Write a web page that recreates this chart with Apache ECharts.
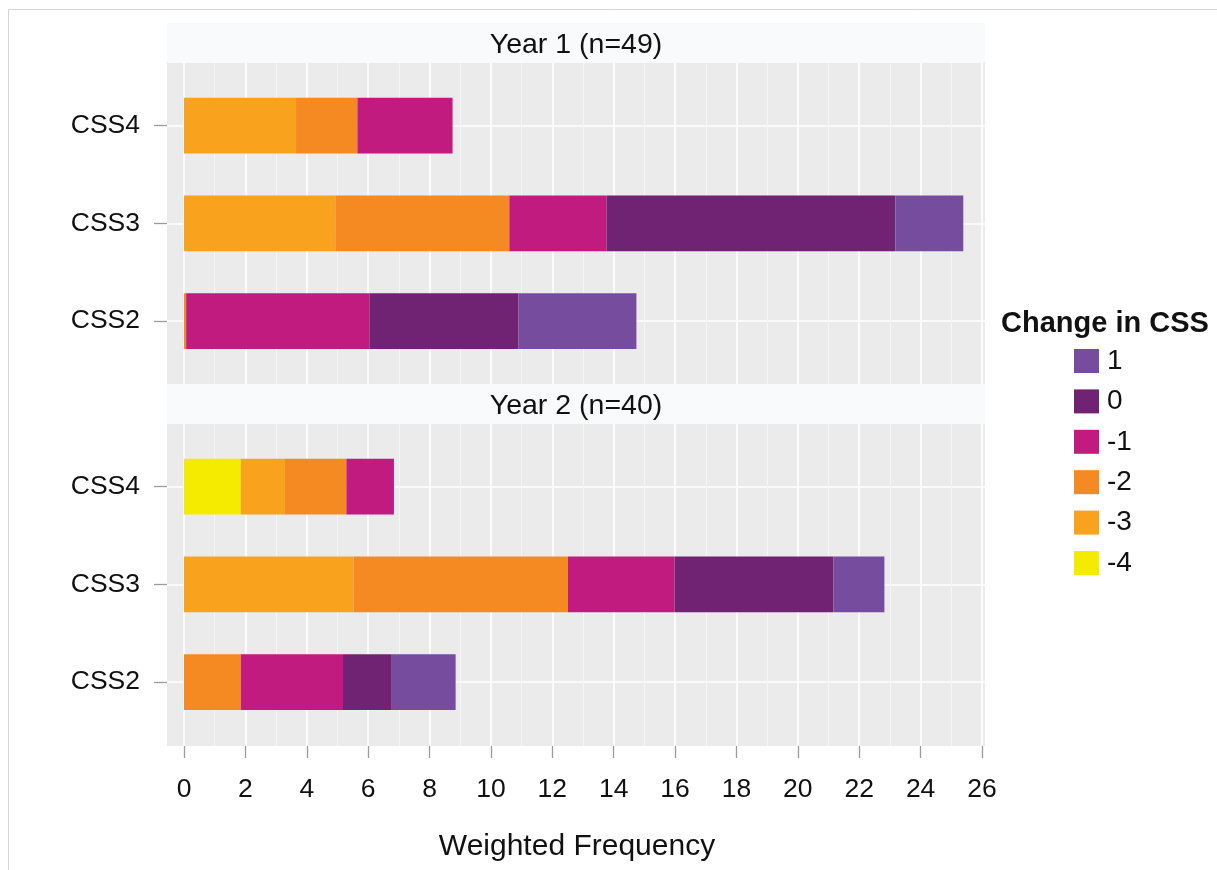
<!DOCTYPE html>
<html>
<head>
<meta charset="utf-8">
<script src="https://cdn.jsdelivr.net/npm/echarts@6/dist/echarts.min.js"></script>
<style>
  html, body { margin: 0; padding: 0; background: #ffffff; }
  #chart { width: 1217px; height: 870px; }
</style>
</head>
<body>
<div id="chart"></div>
<script>
// Rows of each panel, bottom to top
const categories = ['CSS2', 'CSS3', 'CSS4'];
// Change-in-CSS levels, stacked left to right
const levels = ['-4', '-3', '-2', '-1', '0', '1'];
// Legend order (top to bottom)
const legendOrder = ['1', '0', '-1', '-2', '-3', '-4'];
const levelColors = {
  '1': '#764c9f',
  '0': '#712373',
  '-1': '#c11b80',
  '-2': '#f58a22',
  '-3': '#f9a21e',
  '-4': '#f5eb00'
};
const xTicks = [0, 2, 4, 6, 8, 10, 12, 14, 16, 18, 20, 22, 24, 26];

// Weighted frequency per level, values for [CSS2, CSS3, CSS4]
const year1 = {
  '-4': [0, 0, 0],
  '-3': [0, 4.93, 3.65],
  '-2': [0.07, 5.67, 2.0],
  '-1': [5.97, 3.17, 3.10],
  '0': [4.86, 9.41, 0],
  '1': [3.84, 2.21, 0]
};
const year2 = {
  '-4': [0, 0, 1.85],
  '-3': [0, 5.53, 1.44],
  '-2': [1.85, 6.98, 2.0],
  '-1': [3.33, 3.47, 1.55],
  '0': [1.59, 5.18, 0],
  '1': [2.08, 1.66, 0]
};
const panelTitles = ['Year 1 (n=49)', 'Year 2 (n=40)'];
const panelData = [year1, year2];

const FONT = "'Liberation Sans', Arial, Helvetica, sans-serif";
const xMin = xTicks[0], xMax = xTicks[xTicks.length - 1];

// Layout of each facet
const panelLeft = 167, panelWidth = 818;
const dataLeft = 184, dataWidth = 798;
const panelHeight = 322;
const panelTops = [63, 424];
const stripHeight = 40;
const catOffset = 62.7;     // first/last row centre from panel edge
const rowStep = 97.7;

const grid = [], xAxis = [], yAxis = [], series = [], graphic = [];

panelTops.forEach((top, p) => {
  const g0 = grid.length;
  const isLast = p === panelTops.length - 1;

  // 0: grey panel background
  grid.push({ left: panelLeft, top: top, width: panelWidth, height: panelHeight,
    show: true, backgroundColor: '#ebebeb', borderWidth: 0, z: 0 });
  xAxis.push({ gridIndex: g0, type: 'value', show: false, min: 0, max: 1 });
  yAxis.push({ gridIndex: g0, type: 'value', show: false, min: 0, max: 1 });

  // 1: vertical grid lines + bottom axis
  grid.push({ left: dataLeft, top: top, width: dataWidth, height: panelHeight });
  xAxis.push({
    gridIndex: g0 + 1, type: 'value', min: xMin, max: xMax, interval: 2, z: 1,
    axisLine: { show: false },
    axisTick: { show: isLast, length: 12, lineStyle: { color: '#9a9a9a', width: 1.3 } },
    axisLabel: { show: isLast, margin: 26, fontSize: 26.5, color: '#111', fontFamily: FONT },
    offset: isLast ? 4 : 0,
    splitLine: { show: true, lineStyle: { color: '#ffffff', width: 1.6 } },
    minorTick: { show: false, splitNumber: 2 },
    minorSplitLine: { show: true, lineStyle: { color: '#f5f5f5', width: 1 } },
    name: isLast ? 'Weighted Frequency' : '',
    nameLocation: 'middle', nameGap: 82,
    nameTextStyle: { fontSize: 30, color: '#111', fontFamily: FONT, padding: [0, 12, 0, 0] }
  });
  yAxis.push({ gridIndex: g0 + 1, type: 'value', show: false, min: 0, max: 1 });

  // 2: row lines, tick marks and row labels
  grid.push({ left: panelLeft, top: top + catOffset, width: panelWidth, height: rowStep * 2 });
  xAxis.push({ gridIndex: g0 + 2, type: 'value', show: false, min: 0, max: 1 });
  yAxis.push({
    gridIndex: g0 + 2, type: 'category', data: categories, boundaryGap: false, z: 1,
    axisLine: { show: false },
    axisTick: { show: true, length: 13, lineStyle: { color: '#9a9a9a', width: 1.3 } },
    axisLabel: { margin: 27, fontSize: 26.5, color: '#111', fontFamily: FONT },
    splitLine: { show: true, lineStyle: { color: '#ffffff', width: 1.6 } }
  });

  // 3: stacked bars
  grid.push({ left: dataLeft, top: top + catOffset - rowStep / 2, width: dataWidth, height: rowStep * 3 });
  xAxis.push({ gridIndex: g0 + 3, type: 'value', show: false, min: xMin, max: xMax });
  yAxis.push({ gridIndex: g0 + 3, type: 'category', data: categories, show: false });

  const d = panelData[p];
  levels.forEach(lv => {
    series.push({
      name: lv, type: 'bar', stack: 'panel' + p,
      xAxisIndex: g0 + 3, yAxisIndex: g0 + 3,
      barWidth: '57%',
      itemStyle: { color: levelColors[lv] },
      emphasis: { disabled: true },
      data: d[lv].map(v => (v > 0 ? v : '-'))
    });
  });

  // facet strip with its title
  graphic.push({
    type: 'rect', z: 0,
    shape: { x: panelLeft, y: top - stripHeight, width: panelWidth, height: stripHeight },
    style: { fill: '#f9fafc' }
  });
  graphic.push({
    type: 'text', z: 1,
    x: panelLeft + panelWidth / 2, y: top - stripHeight / 2 + 2,
    style: { text: panelTitles[p], fontSize: 28.5, fontFamily: FONT, fill: '#111',
      align: 'center', verticalAlign: 'middle' }
  });
});

// thin frame around the figure
graphic.push({
  type: 'rect', z: 0,
  shape: { x: 8.5, y: 9.5, width: 1300, height: 900 },
  style: { fill: 'none', stroke: '#d6d6d6', lineWidth: 1 }
});

const option = {
  animation: false,
  backgroundColor: '#ffffff',
  textStyle: { fontFamily: FONT },
  title: {
    text: 'Change in CSS', left: 1001, top: 309, padding: 0,
    textStyle: { fontSize: 29, fontWeight: 'bold', color: '#111', fontFamily: FONT }
  },
  legend: {
    data: legendOrder, orient: 'vertical', left: 1074, top: 347,
    itemWidth: 25, itemHeight: 24, itemGap: 12.4, padding: 0,
    icon: 'rect', selectedMode: false,
    textStyle: { fontSize: 28, color: '#111', fontFamily: FONT, padding: [0, 0, 0, 3] }
  },
  grid, xAxis, yAxis, series, graphic
};

const chart = echarts.init(document.getElementById('chart'), null, { renderer: 'canvas' });
chart.setOption(option);
</script>
</body>
</html>
